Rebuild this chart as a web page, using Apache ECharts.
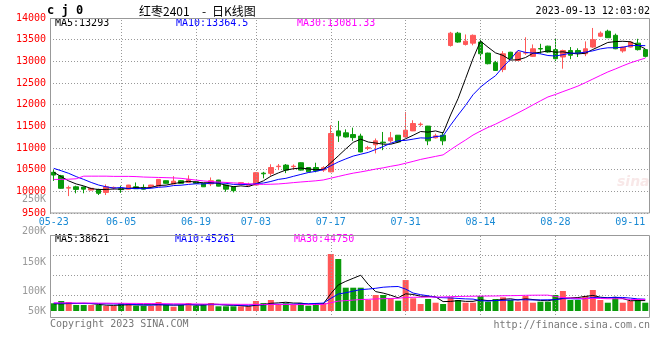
<!DOCTYPE html>
<html><head><meta charset="utf-8">
<script src="https://cdn.jsdelivr.net/npm/echarts@6/dist/echarts.min.js"></script>
<style>html,body{margin:0;padding:0;background:#fff}#c{width:660px;height:360px}</style>
</head><body><div id="c"></div>
<script>
// ---- data ----
const dates = ['05-23','05-24','05-25','05-26','05-29','05-30','05-31',
 '06-01','06-02','06-05','06-06','06-07','06-08','06-09','06-12','06-13','06-14','06-15','06-16',
 '06-19','06-20','06-21','06-26','06-27','06-28','06-29','06-30',
 '07-03','07-04','07-05','07-06','07-07','07-10','07-11','07-12','07-13','07-14',
 '07-17','07-18','07-19','07-20','07-21','07-24','07-25','07-26','07-27','07-28','07-31',
 '08-01','08-02','08-03','08-04','08-07','08-08','08-09','08-10','08-11',
 '08-14','08-15','08-16','08-17','08-18','08-21','08-22','08-23','08-24','08-25',
 '08-28','08-29','08-30','08-31','09-01','09-04','09-05','09-06','09-07','09-08',
 '09-11','09-12','09-13'];
const opens = [10440,10360,10075,10105,10100,10030,10045,9975,10080,10060,
 10050,10105,10090,10105,10120,10245,10170,10245,10205,10220,
 10185,10170,10260,10145,10105,10160,10140,10145,10420,10415,
 10570,10605,10570,10660,10550,10550,10490,10450,11395,11350,
 11310,11275,10995,11075,11135,11165,11295,11255,11395,11540,
 11505,11235,11295,13365,13650,13390,13420,13445,13190,12970,
 12810,13210,13020,13190,13115,13295,13350,13270,13100,13250,
 13250,13175,13330,13580,13695,13600,13240,13330,13420,13270];
const closes = [10375,10070,10085,10045,10050,10070,9955,10105,10090,10040,
 10145,10060,10050,10145,10275,10185,10235,10185,10275,10185,
 10105,10245,10120,10050,10015,10200,10160,10430,10405,10550,
 10580,10490,10580,10490,10450,10475,10545,11335,11280,11255,
 11240,10910,11005,11165,11120,11235,11140,11410,11565,11550,
 11165,11280,11165,13650,13445,13465,13600,13175,12945,12790,
 13175,13060,13210,13200,13290,13285,13215,13060,13250,13140,
 13190,13290,13500,13650,13545,13290,13330,13445,13270,13115];
const lows = [10240,10060,9890,9955,9955,10020,9915,9915,10040,9965,
 10045,10055,10045,10100,10115,10175,10165,10180,10200,10180,
 10100,10120,10115,9990,9975,10150,10130,10140,10300,10360,
 10490,10420,10500,10480,10440,10440,10450,10440,11140,11240,
 11165,10900,10950,10875,10950,11120,11130,11250,11390,11500,
 11065,11220,11065,13340,13430,13365,13370,13040,12930,12780,
 12750,13050,13010,13150,13100,13175,13200,13005,12830,13050,
 13100,13120,13310,13560,13540,13280,13200,13320,13250,13090];
const highs = [10500,10380,10130,10130,10110,10080,10060,10160,10110,10130,
 10150,10205,10160,10150,10280,10250,10350,10260,10370,10230,
 10190,10320,10265,10150,10110,10210,10200,10440,10450,10625,
 10630,10630,10620,10670,10560,10660,10580,11525,11625,11430,
 11470,11330,11050,11220,11370,11370,11300,11830,11640,11590,
 11510,11330,11370,13680,13680,13620,13620,13500,13200,13010,
 13235,13220,13240,13555,13390,13405,13360,13520,13270,13330,
 13300,13460,13770,13690,13730,13640,13340,13460,13520,13280];
const volumes = [28900,37500,33700,22500,22500,22500,22500,18700,18700,28900,
 28900,19900,19900,18700,33700,22500,16100,22500,30000,19900,
 26200,30000,17600,17600,17600,17600,17600,37500,30000,41200,
 26200,28900,22500,30000,19900,30000,30000,213700,195000,87400,
 87400,87400,41200,60000,60000,47600,38600,116000,47600,26200,
 45000,31100,26200,51400,41200,31100,31100,56200,34900,45000,
 51400,41200,34900,56200,31100,34900,34900,60000,75000,41200,
 41200,56200,78700,41200,31100,51400,31100,37500,43900,31100];
// moving-average values before enough bars exist
const ma5Head  = [10440,10340,10240,10170];
const ma10Head = [10530,10475,10415,10340,10275,10205,10145,10105,10075];
const ma30Head = [10275,10275,10280,10290,10350,10350,10350,10350,10345,10345,
 10345,10340,10330,10325,10320,10315,10310,10300,10280,10260,
 10240,10225,10215,10205,10195,10185,10175,10165,10160];
const vma5Head  = [27000,27000,28000,28000];
const vma10Head = [29000,29000,29000,28500,28000,28000,27500,27000,26500];
const vma30Head = [30500,30500,30500,30000,30000,30000,29500,29500,29000,29000,
 28500,28500,28000,28000,27500,27500,27000,27000,26500,26500,
 26000,26000,25500,25500,25000,25000,25000,24800,24800];
const labelDates = ['05-23','06-05','06-19','07-03','07-17','07-31','08-14','08-28','09-11'];
const gridDates  = ['06-05','06-19','07-03','07-17','07-31','08-14','08-28'];
const priceMin = 9500, priceMax = 14000, priceStep = 500;
const volTickLabels = ['250K','200K','150K','100K','50K'];
const legendMain = ['MA5:13293','MA10:13364.5','MA30:13081.33'];
const legendVol  = ['MA5:38621','MA10:45261','MA30:44750'];
const titleCode = 'c j 0';
const titleName = ['红枣2401','-','日K线图'];
const stamp = '2023-09-13 12:03:02';
const copyText = 'Copyright 2023 SINA.COM';
const urlText = 'http://finance.sina.com.cn';

// ---- helpers ----
function movingAvg(arr, n, head){
  return arr.map((v,i)=>{
    if(i < head.length) return head[i];
    let s=0; for(let k=i-n+1;k<=i;k++) s+=arr[k];
    return +(s/n).toFixed(2);
  });
}
const UP='#ff5858', DOWN='#0a9a0a';
const MONO='"DejaVu Sans Mono", "Liberation Mono", monospace';
const candles = dates.map((d,i)=>[opens[i],closes[i],lows[i],highs[i]]);
const volData = volumes.map((v,i)=>({value:v,itemStyle:{color: closes[i]>opens[i]?UP:DOWN}}));
const gridMark = {symbol:['none','none'], silent:true, animation:false, label:{show:false},
  lineStyle:{color:'#999',type:[1,2],width:1}, data: gridDates.map(d=>({xAxis:d}))};

function lineSeries(data, color, xi, yi){
  return {type:'line', data, xAxisIndex:xi, yAxisIndex:yi, showSymbol:false, symbol:'none',
    lineStyle:{color, width:1}, itemStyle:{color}, z:5, animation:false, silent:true};
}
function txt(x,y,text,fill,opt){
  return Object.assign({type:'text', silent:true, style:Object.assign({x,y,text,fill,
    font:'10px '+MONO, textAlign:'left', textVerticalAlign:'middle'}, opt||{})});
}

const L=50, R=649;
const graphic = [
  {type:'rect', shape:{x:L+0.5,y:18.5,width:R-L,height:194.5}, style:{fill:'none',stroke:'#999',lineWidth:1}, silent:true, z:10},
  {type:'rect', shape:{x:L+0.5,y:235.5,width:R-L,height:82}, style:{fill:'none',stroke:'#999',lineWidth:1}, silent:true, z:10},
  txt(47,11,titleCode,'#000',{font:'bold 12px '+MONO}),
  txt(139,11,titleName[0],'#000',{font:'12px "Noto Sans CJK SC"'}),
  txt(202,11,titleName[1],'#000',{font:'12px "Noto Sans CJK SC"'}),
  txt(212,11,titleName[2],'#000',{font:'12px "Noto Sans CJK SC"'}),
  txt(650,11,stamp,'#000',{textAlign:'right'}),
  txt(55,23.5,legendMain[0],'#000'),
  txt(176,23.5,legendMain[1],'#0000ff'),
  txt(297,23.5,legendMain[2],'#ff00ff'),
  txt(55,239.5,legendVol[0],'#000'),
  txt(175,239.5,legendVol[1],'#0000ff'),
  txt(294,239.5,legendVol[2],'#ff00ff'),
  txt(50,324,copyText,'#777'),
  txt(650,325,urlText,'#777',{textAlign:'right'}),
  txt(617,182,'sina','rgba(225,150,150,0.22)',{font:'italic bold 14px "DejaVu Sans"'})
];
const volLabelY = [199,231,262,291,311];
volTickLabels.forEach((t,i)=>graphic.push(txt(46,volLabelY[i],t,'#999',{textAlign:'right'})));

const option = {
  animation:false,
  backgroundColor:'#fff',
  grid:[
    {left:L, width:R-L, top:18, height:195},
    {left:L, width:R-L, top:235, height:80}
  ],
  xAxis:[
    {type:'category', data:dates, gridIndex:0, boundaryGap:true,
     axisLine:{show:false}, axisTick:{show:false}, splitLine:{show:false},
     axisLabel:{interval:(i,v)=>labelDates.includes(v), color:'#1a8ad4', fontFamily:MONO, fontSize:10, margin:4, hideOverlap:false}},
    {type:'category', data:dates, gridIndex:1, boundaryGap:true,
     axisLine:{show:false}, axisTick:{show:false}, splitLine:{show:false}, axisLabel:{show:false}}
  ],
  yAxis:[
    {type:'value', gridIndex:0, min:priceMin, max:priceMax, interval:priceStep,
     axisLine:{show:false}, axisTick:{show:false},
     axisLabel:{color:'#ff0000', fontFamily:MONO, fontSize:10, margin:4, formatter:v=>String(v)},
     splitLine:{lineStyle:{color:'#999', type:[1,2]}}},
    {type:'value', gridIndex:1, min:-15000, max:285000, interval:75000,
     axisLine:{show:false}, axisTick:{show:false}, axisLabel:{show:false},
     splitLine:{showMinLine:false, lineStyle:{color:'#999', type:[1,2]}}}
  ],
  series:[
    {type:'candlestick', data:candles, xAxisIndex:0, yAxisIndex:0, barWidth:5,
     itemStyle:{color:UP, color0:DOWN, borderColor:UP, borderColor0:DOWN, borderWidth:1},
     markLine:gridMark, z:3, animation:false, silent:true},
    lineSeries(movingAvg(closes,5,ma5Head),'#000000',0,0),
    lineSeries(movingAvg(closes,10,ma10Head),'#0000ff',0,0),
    lineSeries(movingAvg(closes,30,ma30Head),'#ff00ff',0,0),
    {type:'bar', data:volData, xAxisIndex:1, yAxisIndex:1, barWidth:6, markLine:gridMark,
     animation:false, silent:true, z:3},
    lineSeries(movingAvg(volumes,5,vma5Head),'#000000',1,1),
    lineSeries(movingAvg(volumes,10,vma10Head),'#0000ff',1,1),
    lineSeries(movingAvg(volumes,30,vma30Head),'#ff00ff',1,1)
  ],
  graphic
};
const chart = echarts.init(document.getElementById('c'), null, {renderer:'canvas'});
chart.setOption(option);
</script></body></html>
